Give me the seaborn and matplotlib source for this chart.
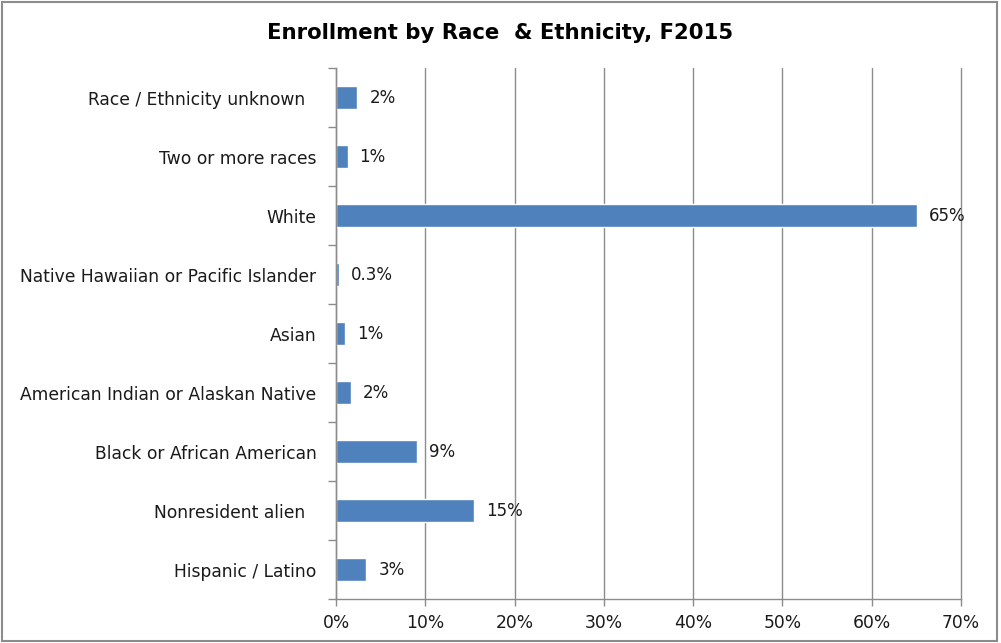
import pandas as pd
import seaborn as sns
import matplotlib.pyplot as plt
from matplotlib.patches import Rectangle
from matplotlib.ticker import FixedLocator, PercentFormatter

# data (percent of enrollment)
groups = ['Race / Ethnicity unknown  ', 'Two or more races', 'White',
          'Native Hawaiian or Pacific Islander', 'Asian',
          'American Indian or Alaskan Native', 'Black or African American',
          'Nonresident alien  ', 'Hispanic / Latino']
shares = [2.4, 1.3, 65.1, 0.3, 1.0, 1.7, 9.1, 15.5, 3.4]
shown = ['2%', '1%', '65%', '0.3%', '1%', '2%', '9%', '15%', '3%']

df = pd.DataFrame({'group': groups, 'share': shares})

sns.set_style('white')
plt.rcParams['font.family'] = ['DejaVu Sans']

fig = plt.figure(figsize=(10.01, 6.43), dpi=100)
ax = fig.add_axes([0.3357, 0.0684, 0.6244, 0.8258])

sns.barplot(data=df, x='share', y='group', color='#4F81BD', width=0.4,
            saturation=1, ax=ax)
ax.bar_label(ax.containers[0], labels=shown, padding=8.5, fontsize=12,
             color='#1a1a1a')

# axes styling like the spreadsheet original
ax.set_xlim(0, 70)
ax.set_ylim(8.5, -0.5)
ax.set_xticks(range(0, 71, 10))
ax.xaxis.set_major_formatter(PercentFormatter(decimals=0))
ax.grid(axis='x', color='#8c8c8c', linewidth=1)
for gl in ax.get_xgridlines():
    gl.set_clip_on(False)
ax.set_axisbelow(True)
for side in ['top', 'right']:
    ax.spines[side].set_visible(False)
for side in ['left', 'bottom']:
    ax.spines[side].set_color('#8c8c8c')
    ax.spines[side].set_linewidth(1)

ax.tick_params(axis='y', which='both', left=True)
ax.tick_params(axis='y', which='major', length=0, pad=14, labelsize=12.3,
               labelcolor='#1a1a1a')
ax.yaxis.set_minor_locator(FixedLocator([i - 0.5 for i in range(10)]))
ax.tick_params(axis='y', which='minor', length=6, width=1, color='#8c8c8c')
ax.tick_params(axis='x', bottom=True, length=5, width=1, color='#8c8c8c',
               labelsize=12.3, labelcolor='#1a1a1a', pad=6)
ax.set_xlabel('')
ax.set_ylabel('')

fig.suptitle('Enrollment by Race  & Ethnicity, F2015', x=0.5, y=0.964,
             fontsize=15.3, fontweight='bold', color='black')
fig.patches.append(Rectangle((0.002, 0.003), 0.994, 0.994,
                             transform=fig.transFigure, fill=False,
                             edgecolor='#8c8c8c', linewidth=1.5))

fig.savefig('out.png', dpi=100)
